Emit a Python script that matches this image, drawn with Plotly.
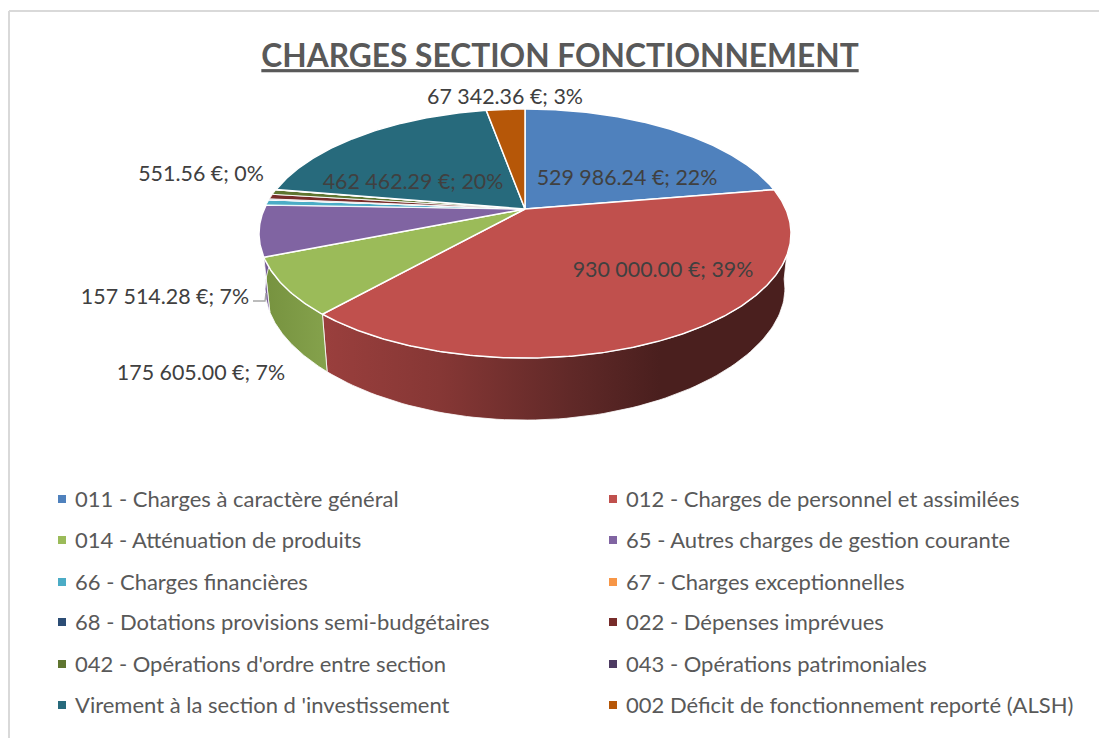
import numpy as np
import plotly.graph_objects as go

TITLE = "CHARGES SECTION FONCTIONNEMENT"
categories = [
    "011 - Charges à caractère général", "012 - Charges de personnel et assimilées",
    "014 - Atténuation de produits", "65 - Autres charges de gestion courante",
    "66 - Charges financières", "67 - Charges exceptionnelles",
    "68 - Dotations provisions semi-budgétaires", "022 - Dépenses imprévues",
    "042 - Opérations d'ordre entre section", "043 - Opérations patrimoniales",
    "Virement à la section d 'investissement", "002 Déficit de fonctionnement reporté (ALSH)",
]
values = [529986.24, 930000.00, 175605.00, 157514.28, 16000.0, 551.56,
          3000.0, 15000.0, 15000.0, 1000.0, 462462.29, 67342.36]
colors = ["#4f81bd", "#c0504d", "#9bbb59", "#8064a2", "#4bacc6", "#f79646",
          "#2c4d75", "#772c2a", "#5f7530", "#4d3b62", "#276a7c", "#b65708"]
data_labels = {
    0: "529 986.24 €; 22%", 1: "930 000.00 €; 39%", 2: "175 605.00 €; 7%",
    3: "157 514.28 €; 7%", 5: "551.56 €; 0%", 10: "462 462.29 €; 20%", 11: "67 342.36 €; 3%",
}

# page-space geometry of the tilted pie
CX, CY, A, B, K = 525.0, 209.0, 260.8, 119.7, 0.197
LABEL_XY = {0: (627, 179.5), 1: (663, 271.5), 2: (201, 374.5), 3: (165, 298.5),
            5: (201, 175.5), 10: (413, 183.5), 11: (505, 99)}
LEGEND_X = (62, 613)
LEGEND_Y = (499, 540, 582, 622, 664, 705)
FONT = "Lato"


def top(theta_deg):
    t = np.radians(theta_deg)
    u, v = np.sin(t), np.cos(t)
    w = 1 + K * v
    return CX + A * u / w, CY - B * v / w


def bottom(theta_deg):
    x, y = top(theta_deg)
    return CX + (x - CX) * 0.977, y + 55 + 7 * np.clip((y - 250) / 108, 0, 1) ** 2


vals = np.array(values)
edges = np.concatenate([[0], np.cumsum(vals) / vals.sum() * 360])
fig = go.Figure()

# extruded rim, drawn first, only the front-facing part
RIM_START = 97
side_scales = {
    1: [[0, "#9a3f3d"], [0.25, "#863735"], [0.55, "#5e2827"], [0.72, "#4a1f1e"], [1, "#4a1f1e"]],
    2: [[0, "#76923f"], [1, "#85a24c"]],
    3: [[0, "#6a5388"], [1, "#7a5f9c"]],
}
for i, scale in side_scales.items():
    a0 = max(edges[i], RIM_START)
    a1 = edges[i + 1]
    th = np.linspace(a0, a1, 90)
    xt, yt = top(th)
    xb, yb = bottom(th)
    fig.add_trace(go.Scatter(
        x=np.concatenate([xt, xb[::-1], xt[:1]]), y=np.concatenate([yt, yb[::-1], yt[:1]]),
        mode="lines", fill="toself", line=dict(color="rgba(255,255,255,0.8)", width=1),
        fillgradient=dict(type="horizontal", colorscale=scale),
        hoverinfo="skip", showlegend=False))

# top face
for i, name in enumerate(categories):
    n = max(4, int((edges[i + 1] - edges[i]) * 2))
    th = np.linspace(edges[i], edges[i + 1], n)
    x, y = top(th)
    fig.add_trace(go.Scatter(
        x=np.concatenate([[CX], x, [CX]]), y=np.concatenate([[CY], y, [CY]]),
        mode="lines", fill="toself", fillcolor=colors[i], name=name,
        line=dict(color="#ffffff", width=1.5 if vals[i] > 20000 else 0.9),
        showlegend=False, hovertemplate=name + "<br>%{text}<extra></extra>",
        text=[f"{values[i]:,.2f} €"] * (n + 2)))

# leader line of the 157 514.28 label
lead_y = LABEL_XY[3][1] + 2.5
fig.add_trace(go.Scatter(x=[253, 265, 266], y=[lead_y, lead_y, lead_y - 8], mode="lines",
                         line=dict(color="#a6a6a6", width=1.4), hoverinfo="skip", showlegend=False))

# data labels
idx = list(data_labels)
fig.add_trace(go.Scatter(
    x=[LABEL_XY[i][0] for i in idx], y=[LABEL_XY[i][1] for i in idx],
    text=[data_labels[i] for i in idx], mode="text", textposition="middle center",
    textfont=dict(family=FONT, size=21.4, color="#404040"), hoverinfo="skip", showlegend=False))

# legend, two columns of six rows
lx = [LEGEND_X[i % 2] for i in range(len(categories))]
ly = [LEGEND_Y[i // 2] for i in range(len(categories))]
fig.add_trace(go.Scatter(
    x=lx, y=ly, mode="markers", marker=dict(symbol="square", size=8, color=colors),
    hoverinfo="skip", showlegend=False))
fig.add_trace(go.Scatter(
    x=[v + 13 for v in lx], y=[v + 2 for v in ly], mode="text", text=categories, textposition="middle right",
    textfont=dict(family=FONT, size=22, color="#595959"), hoverinfo="skip", showlegend=False))

fig.update_layout(
    width=1099, height=738, margin=dict(l=0, r=0, t=0, b=0),
    paper_bgcolor="white", plot_bgcolor="white", showlegend=False,
    title=dict(text="<b>" + TITLE + "</b>", x=560 / 1099, xanchor="center", y=1 - 56 / 738, yanchor="middle",
               font=dict(family=FONT, size=31.7, color="#595959", lineposition="under")),
    xaxis=dict(range=[0, 1099], visible=False, fixedrange=True),
    yaxis=dict(range=[738, 0], visible=False, fixedrange=True),
    shapes=[
        dict(type="line", xref="x", yref="y", x0=9, x1=9, y0=11, y1=738, line=dict(color="#d9d9d9", width=2)),
        dict(type="line", xref="x", yref="y", x0=9, x1=1099, y0=11, y1=11, line=dict(color="#d9d9d9", width=2)),
    ],
)
fig.write_html("out.html", post_script="document.body.style.margin='0';document.body.style.overflow='hidden';",
               config=dict(displayModeBar=False))
